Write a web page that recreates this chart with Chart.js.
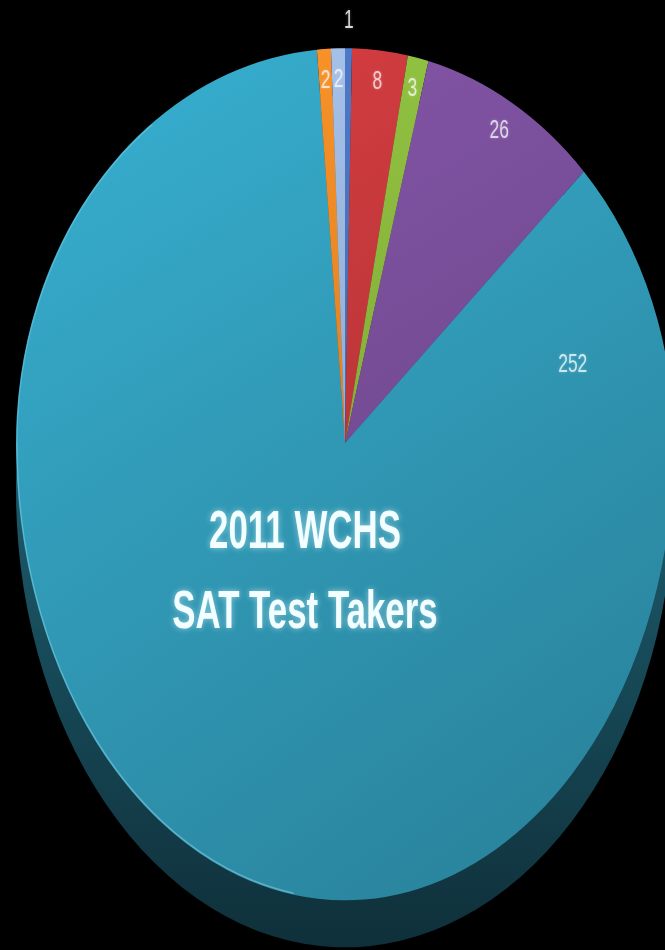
<!DOCTYPE html>
<html>
<head>
<meta charset="utf-8">
<script src="https://cdn.jsdelivr.net/npm/chart.js@4.4.1/dist/chart.umd.min.js"></script>
<style>
  html, body { margin: 0; padding: 0; background: #000; overflow: hidden; width: 665px; height: 950px; }
  #wrap { position: absolute; left: 0; top: 0; width: 680px; height: 950px; }
  canvas { display: block; }
</style>
</head>
<body>
<div id="wrap"><canvas id="c" width="680" height="950"></canvas></div>
<script>
// ---- data ----
const categories = ['Group 1', 'Group 2', 'Group 3', 'Group 4', 'Group 5', 'Group 6', 'Group 7'];
const values = [1, 8, 3, 26, 252, 2, 2];
const sliceColors = ['#4a74c0', '#c8393c', '#8cbb3e', '#7c519e', '#33a1c0', '#f08b26', '#9db8df'];
const titleLines = ['2011 WCHS', 'SAT Test Takers'];

// ---- styling constants ----
const TOP_SQUASH = 1.2;      // vertical stretch of upper half of the disc
const BOTTOM_SQUASH = 1.39;  // vertical stretch of lower half (perspective)
const DEPTH = 47;            // thickness of the 3D side
const TEXT_STRETCH = 1.27;   // the whole slide is vertically stretched
const TEXT_CONDENSE = 0.83;  // narrow (Calibri-like) lettering
const FONT = "'Liberation Sans', Arial, sans-serif";

function hexToRgb(h) {
  const n = parseInt(h.slice(1), 16);
  return [(n >> 16) & 255, (n >> 8) & 255, n & 255];
}
function shade(h, f) {
  const [r, g, b] = hexToRgb(h);
  return `rgb(${Math.round(Math.min(255, r * f))},${Math.round(Math.min(255, g * f))},${Math.round(Math.min(255, b * f))})`;
}
function tint(h, t) {
  const [r, g, b] = hexToRgb(h);
  return `rgb(${Math.round(r + (255 - r) * t)},${Math.round(g + (255 - g) * t)},${Math.round(b + (255 - b) * t)})`;
}

const total = values.reduce((a, b) => a + b, 0);

function faceColor(c) {
  const base = sliceColors[c.dataIndex];
  const chart = c.chart;
  const area = chart.chartArea;
  if (!area) return base;
  const cx = (area.left + area.right) / 2, cy = (area.top + area.bottom) / 2;
  const R = (area.right - area.left) / 2;
  const g = chart.ctx.createLinearGradient(cx - R * 0.7, cy - R, cx + R * 0.35, cy + R);
  g.addColorStop(0, shade(base, 1.08));
  g.addColorStop(1, shade(base, 0.82));
  return g;
}

function inHalf(ctx, W, H, cx, cy, shift, top, fn) {
  ctx.save();
  ctx.beginPath();
  if (top) ctx.rect(0, 0, W, cy + shift + 1);
  else ctx.rect(0, cy + shift, W, H);
  ctx.clip();
  ctx.translate(cx, cy + shift);
  ctx.scale(1, top ? TOP_SQUASH : BOTTOM_SQUASH);
  ctx.translate(-cx, -cy);
  fn();
  ctx.restore();
}

function shapedText(ctx, text, x, y, baseline) {
  ctx.save();
  ctx.translate(x, y);
  ctx.scale(TEXT_CONDENSE, TEXT_STRETCH);
  ctx.textBaseline = baseline;
  ctx.fillText(text, 0, 0);
  ctx.restore();
}

const pie3d = {
  id: 'pie3d',
  beforeDatasetsDraw(chart) {
    const ctx = chart.ctx;
    const meta = chart.getDatasetMeta(0);
    const arcs = meta.data;
    const cx = arcs[0].x, cy = arcs[0].y;
    const W = chart.width, H = chart.height;

    // 3D side (the same slices, pushed down and darkened)
    [true, false].forEach(top => {
      inHalf(ctx, W, H, cx, cy, DEPTH, top, () => {
        arcs.forEach((a, i) => {
          const g = ctx.createLinearGradient(0, cy, 0, cy + a.outerRadius);
          g.addColorStop(0, shade(sliceColors[i], 0.55));
          g.addColorStop(1, shade(sliceColors[i], 0.3));
          ctx.beginPath();
          ctx.moveTo(a.x, a.y);
          ctx.arc(a.x, a.y, a.outerRadius, a.startAngle, a.endAngle);
          ctx.closePath();
          ctx.fillStyle = g;
          ctx.fill();
        });
      });
    });

    // top face, drawn by the arc elements themselves
    [true, false].forEach(top => {
      inHalf(ctx, W, H, cx, cy, 0, top, () => {
        arcs.forEach(a => a.draw(ctx));
      });
    });

    // faint light rim on the left edge
    inHalf(ctx, W, H, cx, cy, 0, false, () => {
      const a = arcs[4];
      ctx.beginPath();
      ctx.arc(a.x, a.y, a.outerRadius - 1, Math.PI * 0.55, Math.PI);
      ctx.strokeStyle = 'rgba(150,220,240,0.45)';
      ctx.lineWidth = 1.2;
      ctx.stroke();
    });
    inHalf(ctx, W, H, cx, cy, 0, true, () => {
      const a = arcs[4];
      ctx.beginPath();
      ctx.arc(a.x, a.y, a.outerRadius - 1, Math.PI, Math.PI * 1.3);
      ctx.strokeStyle = 'rgba(150,220,240,0.35)';
      ctx.lineWidth = 1.2;
      ctx.stroke();
    });
    return false;
  },
  afterDraw(chart) {
    const ctx = chart.ctx;
    const arcs = chart.getDatasetMeta(0).data;
    const cx = arcs[0].x, cy = arcs[0].y;

    // value labels
    ctx.save();
    ctx.font = `21px ${FONT}`;
    ctx.textAlign = 'center';
    arcs.forEach((a, i) => {
      const frac = values[i] / total;
      let ang = (a.startAngle + a.endAngle) / 2;
      let f = 0.92;
      let color = tint(sliceColors[i], 0.75);
      if (frac > 0.5) { ang = a.startAngle + 0.48; f = 0.72; }
      else if (frac < 0.005) { f = 1.07; color = '#d9d9d9'; }
      const px = a.x + Math.cos(ang) * a.outerRadius * f;
      let dy = Math.sin(ang) * a.outerRadius * f;
      dy *= dy < 0 ? TOP_SQUASH : BOTTOM_SQUASH;
      ctx.fillStyle = color;
      ctx.shadowColor = 'rgba(255,255,255,0.3)';
      ctx.shadowBlur = 3;
      shapedText(ctx, String(values[i]), px, a.y + dy, 'middle');
    });
    ctx.restore();

    // title inside the pie
    ctx.save();
    ctx.font = `bold 42px ${FONT}`;
    ctx.textAlign = 'center';
    ctx.fillStyle = '#f2feff';
    ctx.shadowColor = 'rgba(230,255,255,0.55)';
    ctx.shadowBlur = 6;
    const tx = cx - 40;
    [[titleLines[0], cy + 105], [titleLines[1], cy + 185]].forEach(([t, y]) => {
      shapedText(ctx, t, tx, y, 'alphabetic');
    });
    ctx.restore();
  }
};

new Chart(document.getElementById('c'), {
  type: 'pie',
  data: {
    labels: categories,
    datasets: [{
      data: values,
      backgroundColor: faceColor,
      borderWidth: 0
    }]
  },
  options: {
    responsive: false,
    animation: false,
    events: [],
    rotation: 0,
    layout: { padding: { left: 16, right: 6, top: 114, bottom: 178 } },
    plugins: {
      legend: { display: false },
      tooltip: { enabled: false },
      title: { display: false }
    }
  },
  plugins: [pie3d]
});
</script>
</body>
</html>
